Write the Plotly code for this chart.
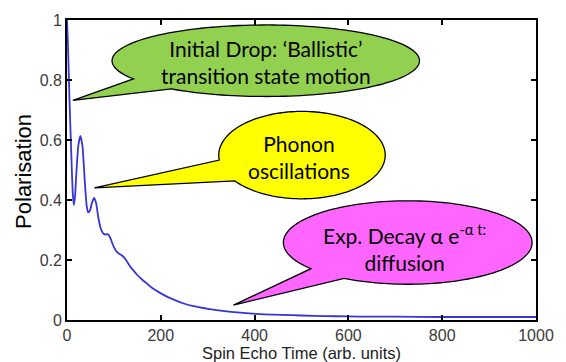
import numpy as np
import plotly.graph_objects as go

# ---- data ----
spin_echo_time = [0, 2, 5, 9, 12, 14.5, 17, 20, 24, 28.5, 33, 38, 42, 45, 49, 53, 57.7, 62, 67, 72,
                  77, 82, 87, 92, 98, 104, 110, 118, 126, 134, 141, 150, 160, 170, 179, 190, 202,
                  214, 230, 249, 270, 290, 319, 350, 388, 420, 458, 500, 550, 597, 650, 700, 800,
                  900, 1000]
polarisation = [1.0, 0.92, 0.75, 0.56, 0.43, 0.383, 0.41, 0.49, 0.58, 0.614, 0.58, 0.46, 0.38,
                0.359, 0.365, 0.39, 0.407, 0.39, 0.34, 0.305, 0.289, 0.285, 0.286, 0.275, 0.25,
                0.232, 0.222, 0.214, 0.2, 0.18, 0.166, 0.15, 0.135, 0.122, 0.110, 0.098, 0.087,
                0.077, 0.066, 0.055, 0.046, 0.04, 0.033, 0.027, 0.022, 0.019, 0.017, 0.015,
                0.013, 0.012, 0.011, 0.011, 0.010, 0.010, 0.010]
x_tick_vals = [0, 200, 400, 600, 800, 1000]
x_tick_text = ["0", "200", "400", "600", "800", "1000"]
y_tick_vals = [0, 0.2, 0.4, 0.6, 0.8, 1]
y_tick_text = ["0", "0.2", "0.4", "0.6", "0.8", "1"]

# ---- layout geometry (pixels) ----
W_PX, H_PX = 566, 362
ML, MR, MT, MB = 67, 20, 18, 42
PW = W_PX - ML - MR
PH = H_PX - MT - MB


def to_paper(px, py):
    return (px - ML) / PW, (H_PX - MB - py) / PH


def bubble_path(cx, cy, rx, ry, a, b, tip, n=160):
    ta = np.arctan2((a[1] - cy) / ry, (a[0] - cx) / rx)
    tb = np.arctan2((b[1] - cy) / ry, (b[0] - cx) / rx)
    tt = np.arctan2((tip[1] - cy) / ry, (tip[0] - cx) / rx)
    two_pi = 2 * np.pi
    if (tt - ta) % two_pi < (tb - ta) % two_pi:
        start, length = tb, (ta - tb) % two_pi
    else:
        start, length = ta, (tb - ta) % two_pi
    ts = start + np.linspace(0, length, n)
    pts = [(cx + rx * np.cos(t), cy + ry * np.sin(t)) for t in ts]
    pts.append(tip)
    pp = [to_paper(*p) for p in pts]
    return "M " + " L ".join(f"{x:.5f},{y:.5f}" for x, y in pp) + " Z"


fig = go.Figure()
fig.add_trace(go.Scatter(
    x=spin_echo_time, y=polarisation, mode="lines",
    line=dict(color="#3535d8", width=1.8, shape="spline", smoothing=0.5),
    hoverinfo="skip", showlegend=False,
))

bubbles = [
    dict(c=(270, 59), r=(157, 36), a=(137, 77), b=(175, 87), tip=(73, 99), fill="#92d050"),
    dict(c=(307, 154), r=(85, 44), a=(223, 159), b=(241, 179), tip=(95, 187), fill="#ffff00"),
    dict(c=(415, 242), r=(127, 42), a=(310, 270), b=(343, 282), tip=(237, 305), fill="#ff66ff"),
]
shapes = []
for bb in bubbles:
    shapes.append(dict(
        type="path", xref="paper", yref="paper", layer="above",
        path=bubble_path(bb["c"][0], bb["c"][1], bb["r"][0], bb["r"][1], bb["a"], bb["b"], bb["tip"]),
        fillcolor=bb["fill"], line=dict(color="black", width=1.3),
    ))

bubble_font = dict(family="Lato, Carlito, sans-serif", size=21, color="black")
texts = [
    ((270, 60), "Initial Drop: \u2018Ballistic\u2019<br>transition state motion"),
    ((304, 156), "Phonon<br>oscillations"),
    ((412, 247), "Exp. Decay \u03b1 e<sup>-\u03b1 t:</sup><br>diffusion"),
]
annotations = []
for (px, py), t in texts:
    xp, yp = to_paper(px, py)
    annotations.append(dict(x=xp, y=yp, xref="paper", yref="paper", text=t, showarrow=False,
                            font=bubble_font, xanchor="center", yanchor="middle", align="center"))

xp, yp = to_paper(307, 353)
annotations.append(dict(x=xp, y=yp, xref="paper", yref="paper", text="Spin Echo Time (arb. units)",
                        showarrow=False, xanchor="center", yanchor="middle",
                        font=dict(family="Liberation Sans, Arial, sans-serif", size=16.5, color="#222")))
xp, yp = to_paper(23, 170)
annotations.append(dict(x=xp, y=yp, xref="paper", yref="paper", text="Polarisation",
                        showarrow=False, xanchor="center", yanchor="middle", textangle=-90,
                        font=dict(family="Liberation Sans, Arial, sans-serif", size=22, color="black")))

axis_common = dict(
    showline=True, linecolor="black", linewidth=1.8, mirror="allticks",
    ticks="inside", ticklen=5, tickwidth=1.5, tickcolor="black",
    showgrid=False, zeroline=False,
    tickfont=dict(family="Liberation Sans, Arial, sans-serif", size=16, color="#3a3a3a"),
)
fig.update_layout(
    width=W_PX, height=H_PX,
    margin=dict(l=ML, r=MR, t=MT, b=MB),
    paper_bgcolor="white", plot_bgcolor="white",
    xaxis=dict(range=[0, 1000], tickvals=x_tick_vals, ticktext=x_tick_text, **axis_common),
    yaxis=dict(range=[0, 1], tickvals=y_tick_vals, ticktext=y_tick_text, **axis_common),
    shapes=shapes, annotations=annotations,
)

fig.write_html("out.html")
